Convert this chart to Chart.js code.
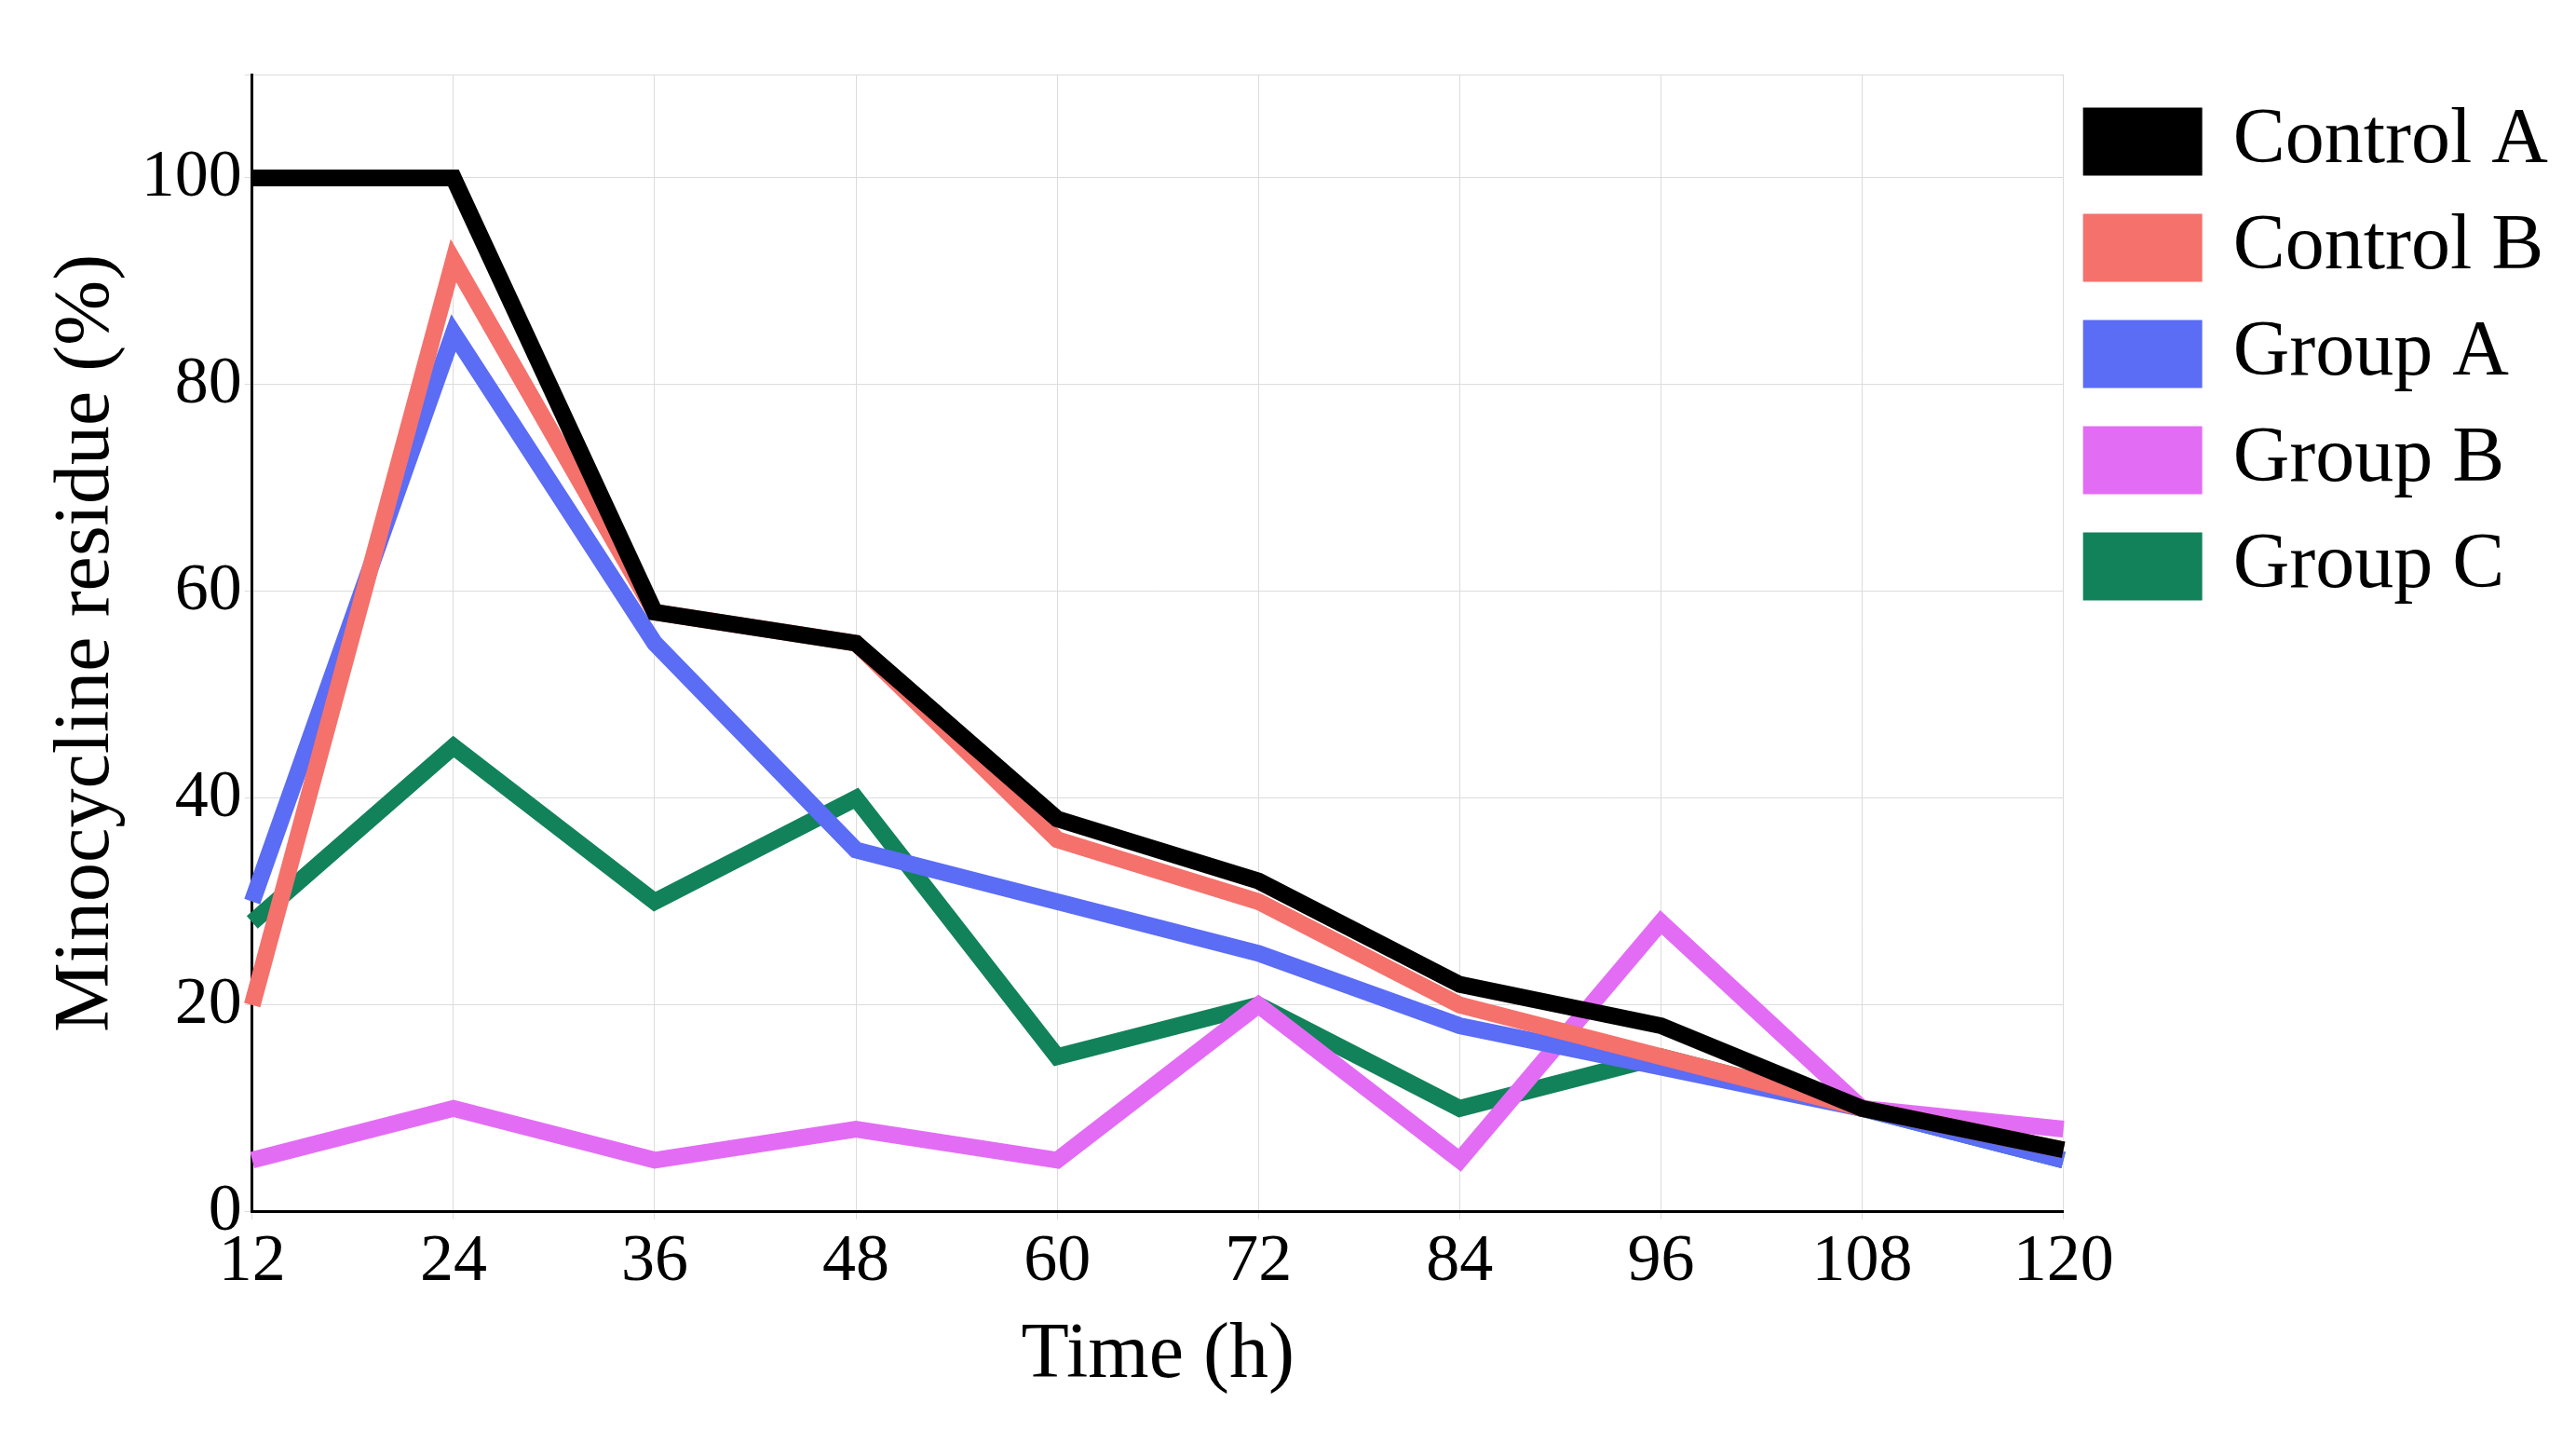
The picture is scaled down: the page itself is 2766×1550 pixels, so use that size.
<!DOCTYPE html>
<html>
<head>
<meta charset="utf-8">
<script src="https://cdn.jsdelivr.net/npm/chart.js@4.4.0/dist/chart.umd.min.js"></script>
<style>
html,body{margin:0;background:#fff;}
#wrap{width:2766px;height:1550px;}
</style>
</head>
<body>
<div id="wrap"><canvas id="chart"></canvas></div>
<script>
const times = ['12', '24', '36', '48', '60', '72', '84', '96', '108', '120'];
const seriesNames = ['Control A', 'Control B', 'Group A', 'Group B', 'Group C'];
const controlA = [100, 100, 58, 55, 38, 32, 22, 18, 10, 6];
const controlB = [20, 92, 58, 55, 36, 30, 20, 15, 10, 6];
const groupA = [30, 85, 55, 35, 30, 25, 18, 14, 10, 5];
const groupB = [5, 10, 5, 8, 5, 20, 5, 28, 10, 8];
const groupC = [28, 45, 30, 40, 15, 20, 10, 15, 10, 5];
const colours = ['#000000', '#f5716c', '#5b6cf5', '#e36cf5', '#12825a'];

const allSeries = [controlA, controlB, groupA, groupB, groupC];
const datasets = allSeries.map((vals, i) => ({
  label: seriesNames[i],
  data: vals,
  borderColor: colours[i],
  backgroundColor: colours[i],
  borderWidth: 18,
  pointRadius: 0,
  tension: 0
}));

new Chart(document.getElementById('chart'), {
  type: 'line',
  data: { labels: times, datasets: datasets },
  options: {
    responsive: true,
    maintainAspectRatio: false,
    animation: false,
    layout: { padding: { left: 40, right: 20, top: 80, bottom: 40 } },
    plugins: {
      legend: {
        position: 'right',
        align: 'start',
        labels: {
          font: { family: 'Liberation Serif', size: 84 },
          color: '#000',
          boxWidth: 110,
          boxHeight: 55,
          padding: 30
        }
      }
    },
    scales: {
      x: {
        title: { display: true, text: 'Time (h)', font: { family: 'Liberation Serif', size: 84 }, color: '#000' },
        ticks: { font: { family: 'Liberation Serif', size: 72 }, color: '#000' },
        grid: { color: '#dcdcdc' },
        border: { color: '#000', width: 3 }
      },
      y: {
        min: 0, max: 110,
        title: { display: true, text: 'Minocycline residue (%)', font: { family: 'Liberation Serif', size: 84 }, color: '#000' },
        ticks: { stepSize: 20, font: { family: 'Liberation Serif', size: 72 }, color: '#000',
          callback: v => v <= 100 ? v : '' },
        grid: { color: '#dcdcdc' },
        border: { color: '#000', width: 3 }
      }
    }
  }
});
</script>
</body>
</html>
